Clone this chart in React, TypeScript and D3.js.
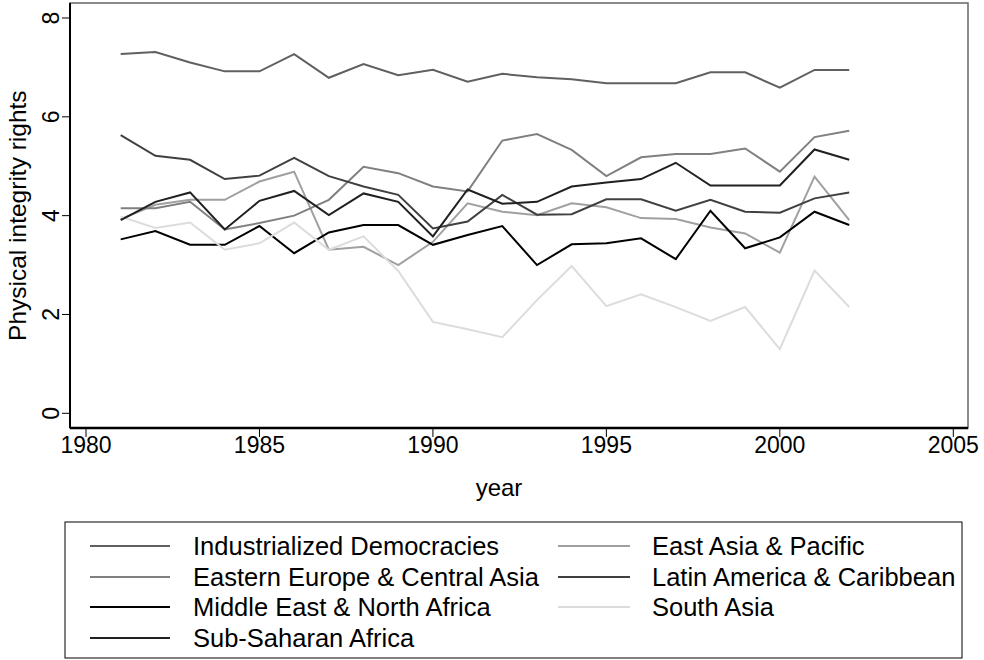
import React from 'react';
import * as d3 from 'd3';

const years = d3.range(1981, 2003);

const industrialized = [7.27, 7.31, 7.10, 6.92, 6.92, 7.27, 6.79, 7.07, 6.84, 6.95, 6.71, 6.87, 6.80, 6.76, 6.68, 6.68, 6.68, 6.90, 6.90, 6.59, 6.95, 6.95];
const eastAsia = [3.93, 4.22, 4.32, 4.32, 4.69, 4.89, 3.31, 3.37, 3.00, 3.47, 4.25, 4.08, 4.01, 4.25, 4.17, 3.95, 3.93, 3.76, 3.64, 3.25, 4.79, 3.91];
const easternEurope = [4.15, 4.15, 4.28, 3.72, 3.85, 4.00, 4.32, 4.99, 4.86, 4.59, 4.49, 5.52, 5.65, 5.33, 4.80, 5.18, 5.25, 5.25, 5.36, 4.89, 5.59, 5.72];
const latinAmerica = [5.63, 5.21, 5.13, 4.74, 4.81, 5.17, 4.80, 4.59, 4.42, 3.74, 3.88, 4.42, 4.02, 4.03, 4.33, 4.33, 4.10, 4.32, 4.08, 4.06, 4.35, 4.47];
const middleEast = [3.52, 3.69, 3.41, 3.41, 3.79, 3.24, 3.66, 3.81, 3.81, 3.41, 3.61, 3.79, 3.00, 3.42, 3.44, 3.54, 3.12, 4.10, 3.34, 3.56, 4.08, 3.81];
const southAsia = [3.98, 3.75, 3.86, 3.31, 3.44, 3.86, 3.31, 3.58, 2.88, 1.85, 1.70, 1.54, 2.29, 2.98, 2.17, 2.41, 2.15, 1.87, 2.15, 1.30, 2.89, 2.15];
const subSaharan = [3.91, 4.28, 4.47, 3.72, 4.30, 4.50, 4.01, 4.45, 4.28, 3.58, 4.53, 4.24, 4.28, 4.59, 4.67, 4.74, 5.07, 4.61, 4.61, 4.61, 5.34, 5.13];

const seriesNames = [
  'Industrialized Democracies',
  'East Asia & Pacific',
  'Eastern Europe & Central Asia',
  'Latin America & Caribbean',
  'Middle East & North Africa',
  'South Asia',
  'Sub-Saharan Africa',
];
const seriesValues = [industrialized, eastAsia, easternEurope, latinAmerica, middleEast, southAsia, subSaharan];
const seriesColors = ['#606060', '#a0a0a0', '#808080', '#404040', '#000000', '#dcdcdc', '#202020'];

const xTicks = [1980, 1985, 1990, 1995, 2000, 2005];
const yTicks = [0, 2, 4, 6, 8];

const font = '"Liberation Sans", Arial, sans-serif';

export default function App() {
  const left = 70, right = 968, top = 3, bottom = 428;
  const x = d3.scaleLinear().domain([1980, 2005]).range([86, 953.3]);
  const y = d3.scaleLinear().domain([0, 8]).range([413.3, 18]);

  const line = d3.line<number>()
    .x((_, i) => x(years[i]))
    .y(d => y(d));

  // legend layout: [line start, line end, text start] per column
  const legCols = [[90, 170, 193], [558, 630, 652]];
  const legRowY = [546, 577, 607, 638];

  return (
    <svg width={984} height={660} style={{ position: 'absolute', left: 0, top: 0, background: '#fff' }}
      fontFamily={font}>
      <rect x={left} y={top} width={right - left} height={bottom - top} fill="none" stroke="#666" strokeWidth={1.5} />
      <line x1={left} x2={left} y1={top} y2={bottom} stroke="#000" strokeWidth={2} />
      <line x1={left} x2={right} y1={bottom} y2={bottom} stroke="#000" strokeWidth={2.5} />

      {seriesValues.map((vals, k) => (
        <path key={k} d={line(vals) || ''} fill="none" stroke={seriesColors[k]} strokeWidth={2} strokeLinejoin="miter" />
      ))}

      {xTicks.map(t => (
        <g key={t}>
          <line x1={x(t)} x2={x(t)} y1={bottom} y2={bottom + 9} stroke="#000" strokeWidth={1} />
          <text x={x(t)} y={bottom + 25} textAnchor="middle" fontSize={23}>{t}</text>
        </g>
      ))}
      <text x={499} y={496} textAnchor="middle" fontSize={24}>year</text>

      {yTicks.map(t => (
        <g key={t}>
          <line x1={left - 8} x2={left} y1={y(t)} y2={y(t)} stroke="#000" strokeWidth={1} />
          <text transform={`translate(${left - 11},${y(t)}) rotate(-90)`} textAnchor="middle" fontSize={23}>{t}</text>
        </g>
      ))}
      <text transform={`translate(26,${(y(0) + y(8)) / 2}) rotate(-90)`} textAnchor="middle" fontSize={24.5}>
        Physical integrity rights
      </text>

      <rect x={65} y={522} width={897} height={136} fill="none" stroke="#000" strokeWidth={1} />
      {seriesNames.map((name, k) => {
        const [x1, x2, tx] = legCols[k % 2];
        const ly = legRowY[Math.floor(k / 2)];
        return (
          <g key={name}>
            <line x1={x1} x2={x2} y1={ly} y2={ly} stroke={seriesColors[k]} strokeWidth={2} />
            <text x={tx} y={ly + 9} fontSize={25.5}>{name}</text>
          </g>
        );
      })}
    </svg>
  );
}
